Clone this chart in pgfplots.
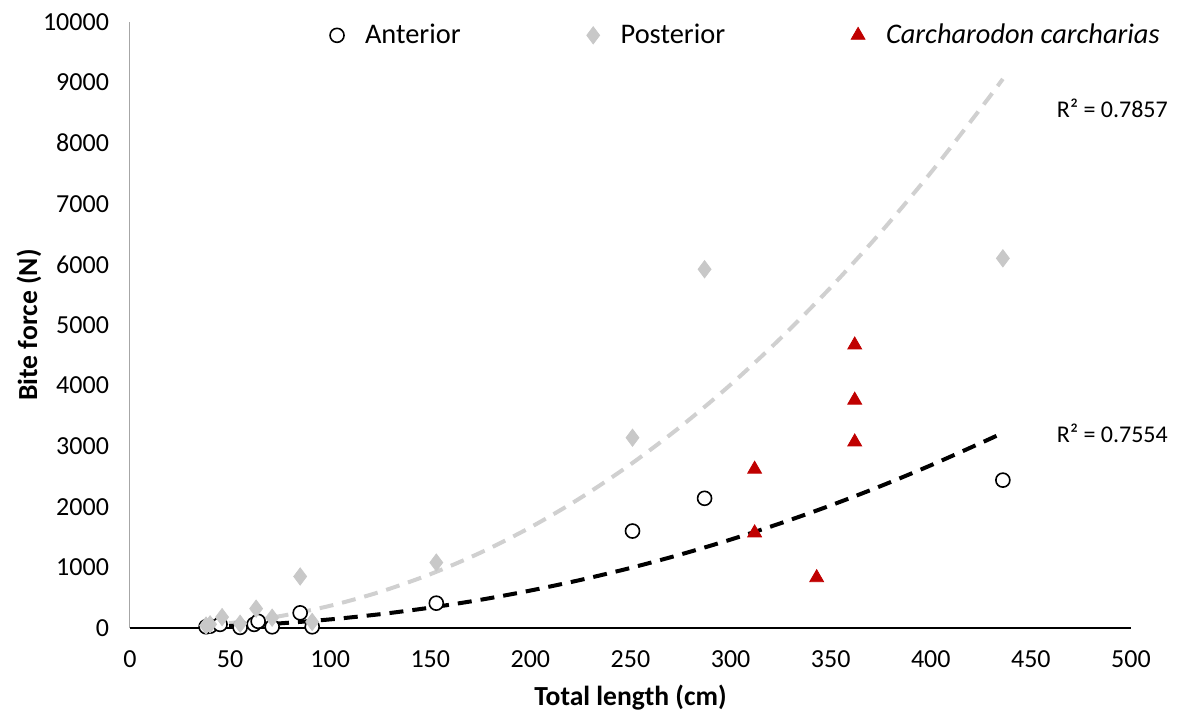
\documentclass[border=0pt]{standalone}
\usepackage{pgfplots}
\pgfplotsset{compat=1.18}
\usepackage{fontspec}
\setmainfont{Carlito}
\definecolor{cred}{HTML}{C00000}
\definecolor{cgray}{HTML}{C8C8C8}
\definecolor{lgray}{HTML}{D0D0D0}
\begin{document}
\begin{tikzpicture}
\path[use as bounding box] (0,0) rectangle (592.5pt,356.5pt);
\begin{axis}[
  at={(65pt,42.5pt)}, anchor=origin,
  scale only axis, width=500.5pt, height=303pt,
  xmin=0, xmax=500, ymin=0, ymax=10000,
  xtick={0,50,...,500}, ytick={0,1000,...,10000},
  axis x line=bottom, axis y line=left,
  x axis line style={black, line width=1pt, -},
  y axis line style={gray!70, line width=0.5pt, -},
  major tick length=0pt,
  tick label style={font=\fontsize{13}{15}\selectfont, text=black},
  /pgf/number format/assume math mode=true,
  /pgf/number format/1000 sep={},
  scaled y ticks=false,
  xticklabel style={yshift=-8pt},
  yticklabel style={xshift=-7pt},
  xlabel={\textbf{Total length (cm)}},
  ylabel={\textbf{Bite force (N)}},
  label style={font=\fontsize{13.8}{16}\selectfont},
  xlabel style={yshift=-1.5pt},
  ylabel style={yshift=-6pt},
  clip=false,
  legend columns=3,
  legend style={draw=none, fill=none, inner sep=0pt, font=\fontsize{14.2}{16}\selectfont,
    at={(rel axis cs:1.033,0.978)}, anchor=east,
    /tikz/every odd column/.append style={column sep=8.5pt},
    /tikz/every even column/.append style={column sep=61pt}},
]
\addplot[only marks, mark=*, mark size=3.5pt, mark options={draw=black, fill=white, line width=0.8pt}] coordinates {
 (38,20) (40,30) (45,60) (55,10) (62,60) (64,110) (71,20) (85,250) (91,20)
 (153,410) (251,1600) (287,2140) (436,2440)};
\addlegendentry{Anterior}
\addplot[only marks, mark=diamond*, mark size=4.3pt, mark options={draw=cgray, fill=cgray}] coordinates {
 (38,40) (40,60) (46,180) (55,70) (63,320) (71,170) (85,850) (91,100)
 (153,1080) (251,3140) (287,5920) (436,6100)};
\addlegendentry{Posterior}
\addplot[only marks, mark=triangle*, mark size=4pt, mark options={draw=cred, fill=cred}] coordinates {
 (312,2620) (312,1570) (343,830) (362,4670) (362,3760) (362,3070)};
\addlegendentry{\textit{Carcharodon carcharias}}
\addplot[lgray, line width=2pt, dash pattern=on 7pt off 4.5pt, smooth, forget plot] coordinates {
 (38,45) (50,81) (75,196) (100,367) (125,597) (150,888) (175,1242) (200,1661)
 (225,2146) (250,2700) (275,3323) (300,4016) (325,4782) (350,5620) (375,6530)
 (400,7514) (425,8577) (436,9060)};
\addplot[black, line width=2pt, dash pattern=on 7pt off 4.5pt, smooth, forget plot] coordinates {
 (38,18) (50,33) (75,77) (100,142) (125,228) (150,336) (175,465) (200,618)
 (225,793) (250,991) (275,1213) (300,1459) (325,1729) (350,2023) (375,2342)
 (400,2685) (425,3053) (436,3220)};
\node[anchor=west, font=\fontsize{12}{14}\selectfont] at (axis cs:459.5,8580) {R² = 0.7857};
\node[anchor=west, font=\fontsize{12}{14}\selectfont] at (axis cs:459.5,3220) {R² = 0.7554};
\end{axis}
\end{tikzpicture}
\end{document}
